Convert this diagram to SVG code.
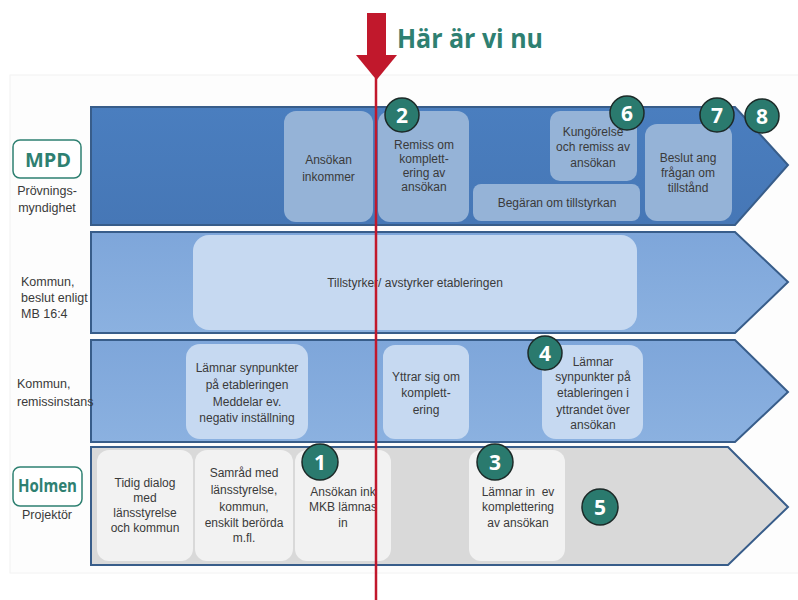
<svg xmlns="http://www.w3.org/2000/svg" width="798" height="600" viewBox="0 0 798 600">
<defs>
<style>
.lane{stroke:#385d8a;stroke-width:2}
.b1{fill:#95b3d7;stroke:none}
.b2{fill:#c6d9f1;stroke:none}
.b4{fill:#f2f2f2;stroke:none}
.t{font-family:"Liberation Sans",Arial,sans-serif;font-size:12px;fill:#3a3a3a;text-anchor:middle}
.lab{font-family:"Liberation Sans",Arial,sans-serif;font-size:12.5px;fill:#3a3a3a}
.num circle{fill:#2a7a6e;stroke:#1c2a28;stroke-width:1.5}
.num text{font-family:"Open Sans","DejaVu Sans",sans-serif;font-weight:bold;font-size:21px;fill:#ffffff;text-anchor:middle}
.badge{fill:#ffffff;stroke:#2e8071;stroke-width:1.5}
.bt{font-family:"Open Sans","DejaVu Sans",sans-serif;font-weight:bold;fill:#2e8071}
</style>
<linearGradient id="gL1" x1="0" y1="0" x2="0" y2="1"><stop offset="0" stop-color="#4a7ebf"/><stop offset="1" stop-color="#4677b6"/></linearGradient>
<linearGradient id="gL2" x1="0" y1="0" x2="0" y2="1"><stop offset="0" stop-color="#7ea6da"/><stop offset="1" stop-color="#8bb1e0"/></linearGradient>
</defs>
<rect x="0" y="0" width="798" height="600" fill="#ffffff"/>
<rect x="10" y="75" width="790" height="498" fill="#fdfdfd" stroke="#f2f2f2" stroke-width="1"/>

<g id="lanes">
<path id="lane1" class="lane" fill="url(#gL1)" d="M91,107 H735 L788,165 L735,225 H91 Z"/>
<path id="lane2" class="lane" fill="url(#gL2)" d="M91,232 H735 L788,282 L735,333 H91 Z"/>
<path id="lane3" class="lane" fill="url(#gL2)" d="M91,340 H735 L788,392 L735,442 H91 Z"/>
<path id="lane4" class="lane" fill="#d9d9d9" d="M91,447 H728 L788,507 L728,565 H91 Z"/>
</g>

<g id="label-mpd">
<rect class="badge" x="13" y="140" width="68" height="38" rx="7"/>
<text class="bt" x="25" y="167" font-size="20" textLength="46" lengthAdjust="spacingAndGlyphs">MPD</text>
<text class="lab" x="47" y="195" text-anchor="middle">Prövnings-</text>
<text class="lab" x="47" y="212" text-anchor="middle">myndighet</text>
</g>
<g id="label-kommun1">
<text class="lab" x="21" y="286">Kommun,</text>
<text class="lab" x="21" y="302">beslut enligt</text>
<text class="lab" x="21" y="318">MB 16:4</text>
</g>
<g id="label-kommun2">
<text class="lab" x="17" y="388">Kommun,</text>
<text class="lab" x="17" y="406">remissinstans</text>
</g>
<g id="label-holmen">
<rect class="badge" x="13" y="467" width="69" height="39" rx="7"/>
<text class="bt" x="18" y="492" font-size="17" textLength="59" lengthAdjust="spacingAndGlyphs">Holmen</text>
<text class="lab" x="47" y="519" text-anchor="middle">Projektör</text>
</g>

<g id="n-ansokan-inkommer">
<rect class="b1" x="284" y="111" width="89" height="111" rx="12"/>
<text class="t" x="328.5" y="164">Ansökan</text>
<text class="t" x="328.5" y="181">inkommer</text>
</g>
<g id="n-remiss">
<rect class="b1" x="378" y="111" width="91" height="111" rx="12"/>
<text class="t" x="424" y="149">Remiss om</text>
<text class="t" x="424" y="163">komplett-</text>
<text class="t" x="424" y="177">ering av</text>
<text class="t" x="424" y="191">ansökan</text>
</g>
<g id="n-kungorelse">
<rect class="b1" x="550" y="111" width="87" height="70" rx="10"/>
<text class="t" x="593" y="136">Kungörelse</text>
<text class="t" x="593" y="151">och remiss av</text>
<text class="t" x="593" y="167">ansökan</text>
</g>
<g id="n-begaran">
<rect class="b1" x="473" y="184" width="167" height="37" rx="8"/>
<text class="t" x="557" y="207">Begäran om tillstyrkan</text>
</g>
<g id="n-beslut">
<rect class="b1" x="645" y="124" width="87" height="97" rx="12"/>
<text class="t" x="688" y="162">Beslut ang</text>
<text class="t" x="688" y="177">frågan om</text>
<text class="t" x="688" y="192">tillstånd</text>
</g>

<g id="n-tillstyrker">
<rect class="b2" x="193" y="235" width="444" height="95" rx="16"/>
<text class="t" x="415" y="287">Tillstyrker/ avstyrker etableringen</text>
</g>

<g id="n-lamnar-synpunkter">
<rect class="b2" x="186" y="344" width="122" height="95" rx="14"/>
<text class="t" x="247" y="372">Lämnar synpunkter</text>
<text class="t" x="247" y="389">på etableringen</text>
<text class="t" x="247" y="406">Meddelar ev.</text>
<text class="t" x="247" y="422">negativ inställning</text>
</g>
<g id="n-yttrar">
<rect class="b2" x="383" y="345" width="86" height="94" rx="12"/>
<text class="t" x="426" y="381">Yttrar sig om</text>
<text class="t" x="426" y="397">komplett-</text>
<text class="t" x="426" y="414">ering</text>
</g>
<g id="n-lamnar-yttrandet">
<rect class="b2" x="542" y="345" width="101" height="94" rx="14"/>
<text class="t" x="593" y="366">Lämnar</text>
<text class="t" x="593" y="381">synpunkter  på</text>
<text class="t" x="593" y="397">etableringen i</text>
<text class="t" x="593" y="414">yttrandet över</text>
<text class="t" x="593" y="429">ansökan</text>
</g>

<g id="n-tidig-dialog">
<rect class="b4" x="97" y="450" width="96" height="111" rx="12"/>
<text class="t" x="145" y="487">Tidig dialog</text>
<text class="t" x="145" y="502">med</text>
<text class="t" x="145" y="517">länsstyrelse</text>
<text class="t" x="145" y="532">och kommun</text>
</g>
<g id="n-samrad">
<rect class="b4" x="195" y="450" width="98" height="111" rx="12"/>
<text class="t" x="244" y="477">Samråd med</text>
<text class="t" x="244" y="494">länsstyrelse,</text>
<text class="t" x="244" y="511">kommun,</text>
<text class="t" x="244" y="527">enskilt berörda</text>
<text class="t" x="244" y="542">m.fl.</text>
</g>
<g id="n-ansokan-mkb">
<rect class="b4" x="295" y="450" width="96" height="111" rx="12"/>
<text class="t" x="343" y="496">Ansökan ink</text>
<text class="t" x="343" y="511">MKB lämnas</text>
<text class="t" x="343" y="527">in</text>
</g>
<g id="n-komplettering">
<rect class="b4" x="469" y="450" width="96" height="111" rx="12"/>
<text class="t" x="518" y="496" xml:space="preserve">Lämnar in  ev</text>
<text class="t" x="518" y="511">komplettering</text>
<text class="t" x="518" y="527">av ansökan</text>
</g>

<g id="markers" class="num">
<g id="m1"><circle cx="320" cy="462" r="18"/><text x="320" y="470">1</text></g>
<g id="m2"><circle cx="402" cy="115" r="17"/><text x="402" y="123">2</text></g>
<g id="m3"><circle cx="495" cy="462" r="18"/><text x="495" y="470">3</text></g>
<g id="m4"><circle cx="545" cy="353" r="17"/><text x="545" y="361">4</text></g>
<g id="m5"><circle cx="600" cy="507" r="18"/><text x="600" y="515">5</text></g>
<g id="m6"><circle cx="627" cy="113" r="17"/><text x="627" y="121">6</text></g>
<g id="m7"><circle cx="717" cy="115" r="17"/><text x="717" y="123">7</text></g>
<g id="m8"><circle cx="762" cy="116" r="17"/><text x="762" y="124">8</text></g>
</g>

<g id="connectors">
<rect x="367" y="13" width="19" height="43" fill="#c1182c"/>
<path d="M356,55 H397 L376.5,80 Z" fill="#c1182c"/>
<line x1="376" y1="78" x2="376" y2="600" stroke="#c1182c" stroke-width="2.5"/>
</g>

<g id="title">
<text x="397" y="48" font-family="'Open Sans','DejaVu Sans',sans-serif" font-weight="bold" font-size="27" fill="#2e8071" textLength="146" lengthAdjust="spacingAndGlyphs">Här är vi nu</text>
</g>
</svg>
